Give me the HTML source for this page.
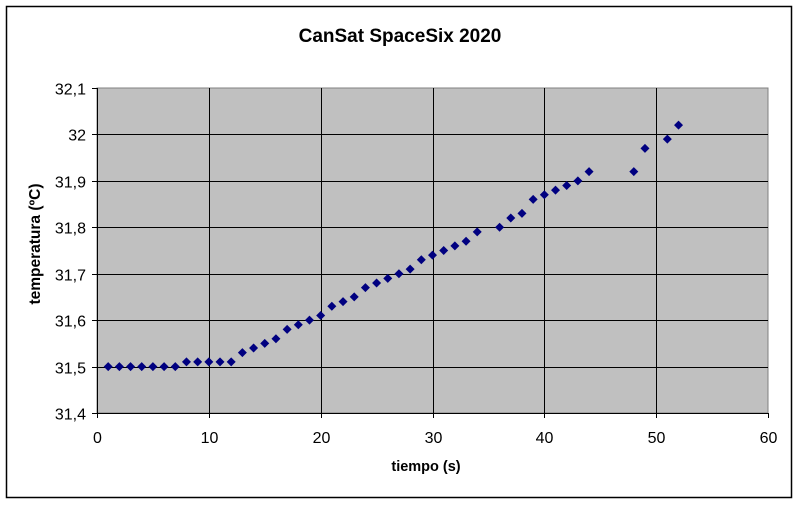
<!DOCTYPE html>
<html><head><meta charset="utf-8"><style>
body{margin:0;background:#fff;width:800px;height:504px;overflow:hidden}
svg text{font-family:"Liberation Sans",Arial,sans-serif}
</style></head><body>
<svg width="800" height="504">
<rect x="6.5" y="6.5" width="785" height="491" fill="#fff" stroke="#000" stroke-width="1.5"/>
<text x="400" y="42" text-anchor="middle" font-size="19" font-weight="bold">CanSat SpaceSix 2020</text>
<rect x="97" y="88" width="671" height="325" fill="#c0c0c0" stroke="#808080"/>
<g id="grid"></g><g id="axes"></g><g id="pts"></g>
<text x="426" y="471" text-anchor="middle" font-size="14.5" font-weight="bold">tiempo (s)</text>
<text transform="translate(40,244) rotate(-90)" text-anchor="middle" font-size="15.5" font-weight="bold">temperatura (ºC)</text>
</svg>
<script>
const xs=[1,2,3,4,5,6,7,8,9,10,11,12,13,14,15,16,17,18,19,20,21,22,23,24,25,26,27,28,29,30,31,32,33,34,36,37,38,39,40,41,42,43,44,48,49,51,52];
const ys=[31.5,31.5,31.5,31.5,31.5,31.5,31.5,31.51,31.51,31.51,31.51,31.51,31.53,31.54,31.55,31.56,31.58,31.59,31.60,31.61,31.63,31.64,31.65,31.67,31.68,31.69,31.70,31.71,31.73,31.74,31.75,31.76,31.77,31.79,31.80,31.82,31.83,31.86,31.87,31.88,31.89,31.90,31.92,31.92,31.97,31.99,32.02];
const xTicks=[0,10,20,30,40,50,60];
const yTicks=[31.4,31.5,31.6,31.7,31.8,31.9,32.0,32.1];
const yLabels=["31,4","31,5","31,6","31,7","31,8","31,9","32","32,1"];
const X=v=>97+(v-0)/60*671, Y=v=>413-(v-31.4)/0.7*325;
const NS="http://www.w3.org/2000/svg";
const g=document.getElementById('grid'),a=document.getElementById('axes'),p=document.getElementById('pts');
function mk(par,t,at){const e=document.createElementNS(NS,t);for(const k in at)e.setAttribute(k,at[k]);par.appendChild(e);return e;}
xTicks.forEach((v,i)=>{const x=Math.round(X(v))+0.5;
 if(i>0&&i<xTicks.length-1){const l=mk(g,'line',{x1:x,x2:x,y1:88,y2:413,stroke:'#000'});
 
 }
 const tk=mk(a,'line',{x1:x,x2:x,y1:413,y2:418,stroke:'#000'});
 
 
 const t=mk(a,'text',{x:x,y:443,'text-anchor':'middle','font-size':'16'});t.textContent=v;
 
 });
yTicks.forEach((v,i)=>{const y=Math.round(Y(v))+0.5;
 if(i>0&&i<yTicks.length-1){const l=mk(g,'line',{x1:97,x2:768,y1:y,y2:y,stroke:'#000'});
 
 }
 const tk=mk(a,'line',{x1:92,x2:97,y1:y,y2:y,stroke:'#000'});
 
 
 const t=mk(a,'text',{x:86,y:y+6,'text-anchor':'end','font-size':'16'});t.textContent=yLabels[i];
 
 });
const ax=mk(a,'path',{d:'M97.5 88V413.5H768',stroke:'#000',fill:'none'});


xs.forEach((v,i)=>{const x=X(v),y=Y(ys[i]);
 const d=mk(p,'path',{d:`M${x} ${y-4.5}L${x+4.5} ${y}L${x} ${y+4.5}L${x-4.5} ${y}Z`,fill:'#000080'});
 
 });
</script>
</body></html>
